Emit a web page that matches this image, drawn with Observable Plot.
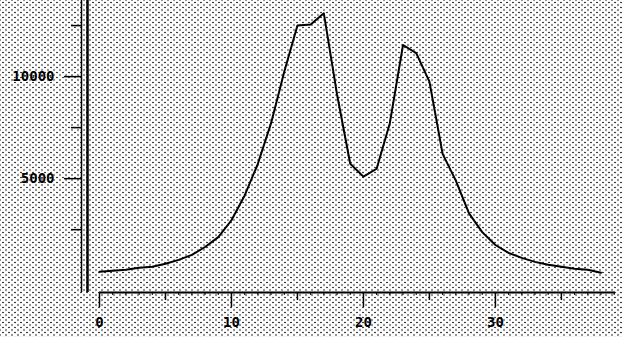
<!DOCTYPE html>
<html>
<head>
<meta charset="utf-8">
<script src="https://cdn.jsdelivr.net/npm/d3@7"></script>
<script src="https://cdn.jsdelivr.net/npm/@observablehq/plot@0.6"></script>
<style>
  html, body { margin: 0; padding: 0; background: #fff; }
  #chart {
    width: 622px; height: 337px;
    background-color: #fff;
    background-image:
      radial-gradient(circle, #3c3c3c 0.8px, transparent 1.15px),
      radial-gradient(circle, #3c3c3c 0.8px, transparent 1.15px);
    background-size: 6px 5px, 6px 5px;
    background-position: 0 0, 3px 2.5px;
  }
</style>
</head>
<body>
<div id="chart"></div>
<script>
// Data
const xs = [0,1,2,3,4,5,6,7,8,9,10,11,12,13,14,15,16,17,18,19,20,21,22,23,24,25,26,27,28,29,30,31,32,33,34,35,36,37,38];
const values = [440,485,534,631,680,825,1019,1262,1650,2136,2961,4175,5728,7718,10242,12500,12550,13100,9126,5728,5097,5485,7718,11550,11150,9757,6213,4903,3301,2378,1747,1359,1116,922,777,680,582,534,388];

// Tick arrays
const xMajorTicks = [0, 10, 20, 30];
const xMidTicks = [5, 15, 25, 35];
const xMinorTicks = [0,1,2,3,4,5,6,7,8,9,10,11,12,13,14,15,16,17,18,19,20,21,22,23,24,25,26,27,28,29,30,31,32,33,34,35,36,37,38,39];
const yLabeledTicks = [5000, 10000];
const yUnlabeledTicks = [2500, 7500, 12500];

const xDomain = [0, 39.1];
const yDomain = [-580, 13730];

const data = xs.map((x, i) => ({x, y: values[i]}));

const chart = Plot.plot({
  width: 622,
  height: 337,
  marginLeft: 99,
  marginRight: 7,
  marginTop: 0,
  marginBottom: 45,
  x: {domain: xDomain, axis: null, label: null},
  y: {domain: yDomain, axis: null, label: null},
  style: {background: "transparent", fontFamily: "DejaVu Sans Mono", fontSize: "14px", fontWeight: "bold", color: "black"},
  marks: [
    // axis lines
    Plot.ruleY([yDomain[0]], {stroke: "black", strokeWidth: 2}),
    Plot.ruleX([xDomain[0]], {dx: -18, stroke: "black", strokeWidth: 1.5}),
    Plot.ruleX([xDomain[0]], {dx: -12, stroke: "black", strokeWidth: 2.5}),
    // x ticks
    Plot.axisX(xMinorTicks, {tickSize: 3, tickFormat: () => "", strokeWidth: 1, label: null}),
    Plot.axisX(xMidTicks, {tickSize: 8, tickFormat: () => "", strokeWidth: 1.5, label: null}),
    Plot.axisX(xMajorTicks, {tickSize: 15, tickPadding: 10, strokeWidth: 1.5, fill: "black", label: null, tickFormat: d => String(d)}),
    // y ticks
    Plot.axisY(yUnlabeledTicks, {tickSize: 10, dx: -18, tickFormat: () => "", strokeWidth: 1.5, label: null}),
    Plot.axisY(yLabeledTicks, {tickSize: 17, dx: -18, tickPadding: 10, strokeWidth: 1.5, fill: "black", label: null, tickFormat: d => String(d)}),
    // data line
    Plot.line(data, {x: "x", y: "y", stroke: "black", strokeWidth: 2})
  ]
});
document.getElementById("chart").append(chart);
</script>
</body>
</html>
